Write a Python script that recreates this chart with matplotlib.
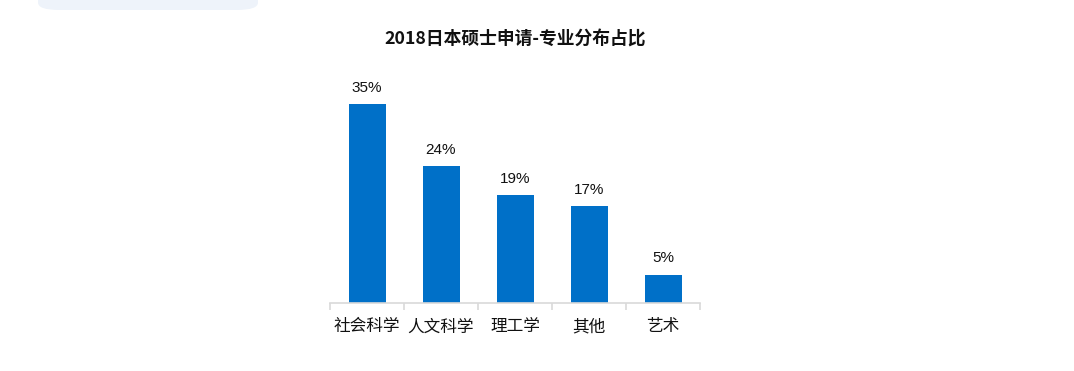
import matplotlib
matplotlib.use("Agg")
import matplotlib.pyplot as plt
from matplotlib.patches import FancyBboxPatch

categories = ["社会科学", "人文科学", "理工学", "其他", "艺术"]
values = [35, 24, 19, 17, 5]
value_labels = ["35%", "24%", "19%", "17%", "5%"]
title = "2018日本硕士申请-专业分布占比"

plt.rcParams['font.family'] = ['Noto Sans CJK SC', 'DejaVu Sans']

fig = plt.figure(figsize=(10.74, 3.71), dpi=100)
fig.patch.set_facecolor("white")

# decorative rounded box at top-left
box = FancyBboxPatch((38 / 1074, 1 - 10 / 371), 220 / 1074, 0.1,
                     boxstyle="round,pad=0,rounding_size=0.02",
                     transform=fig.transFigure, facecolor="#eef3fa",
                     edgecolor="none", zorder=0)
fig.patches.append(box)

ax = fig.add_axes([330 / 1074, (371 - 303) / 371, 370 / 1074, (303 - 75.4) / 371])
x = list(range(len(categories)))
ax.bar(x, values, width=0.5, color="#0070C8", zorder=2)
ax.set_xlim(-0.5, len(categories) - 0.5)
ax.set_ylim(0, 40)

for xi, v, lab in zip(x, values, value_labels):
    ax.text(xi, v + 1.6, lab, ha="center", va="bottom", fontsize=11,
            family="Liberation Sans", color="#111111")

for s in ["top", "right", "left"]:
    ax.spines[s].set_visible(False)
ax.spines["bottom"].set_color("#d9d9d9")
ax.spines["bottom"].set_linewidth(1.2)
ax.set_yticks([])
ax.set_xticks([i - 0.5 for i in range(len(categories) + 1)])
ax.set_xticklabels([])
ax.tick_params(axis="x", length=5, color="#d9d9d9", width=1.2)
ax.set_xticks(x, minor=True)
ax.set_xticklabels(categories, minor=True, fontsize=12, color="#111111")
ax.tick_params(axis="x", which="minor", length=0, pad=11)

fig.text(515 / 1074, 1 - 40 / 371, title, ha="center", va="center",
         fontsize=12.8, fontweight="bold", color="#111111")

fig.savefig("out.png", dpi=100)
